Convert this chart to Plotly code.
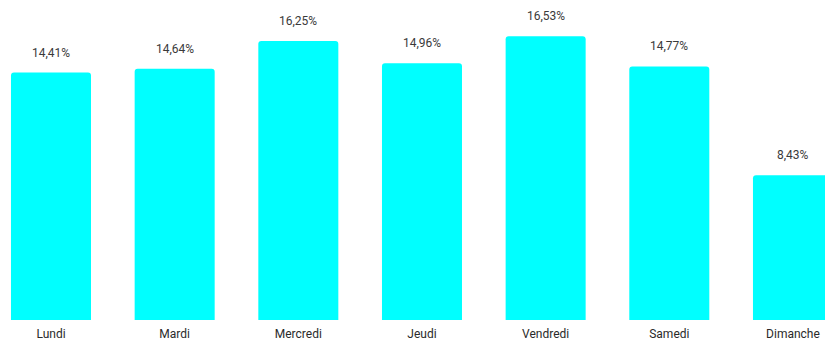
import plotly.graph_objects as go

jours = ["Lundi", "Mardi", "Mercredi", "Jeudi", "Vendredi", "Samedi", "Dimanche"]
parts = [14.41, 14.64, 16.25, 14.96, 16.53, 14.77, 8.43]

labels = [f"{v:.2f}".replace(".", ",") + "%" for v in parts]

fig = go.Figure(
    go.Bar(
        x=list(range(len(jours))),
        y=parts,
        marker=dict(color="#00FFFF", line=dict(width=0)),
        hoverinfo="skip",
    )
)

for i, (v, t) in enumerate(zip(parts, labels)):
    fig.add_annotation(
        x=i, y=v, text=t, showarrow=False, yanchor="middle", yshift=20,
        font=dict(family="Roboto, sans-serif", size=12, color="#3a3a3a"),
    )

fig.update_layout(
    width=825,
    height=342,
    margin=dict(l=0, r=0, t=0, b=22),
    paper_bgcolor="white",
    plot_bgcolor="white",
    bargap=0.353,
    barcornerradius=3,
    showlegend=False,
    font=dict(family="Roboto, sans-serif", size=12, color="#333333"),
)
fig.update_xaxes(
    range=[-0.4124, 6.259],
    tickvals=list(range(len(jours))),
    ticktext=jours,
    showgrid=False, zeroline=False, showline=False, ticks="",
    ticklabelstandoff=5,
    tickfont=dict(size=12, color="#2a2a2a"),
)
fig.update_yaxes(range=[0, 18.64], visible=False, showgrid=False, zeroline=False)

fig.write_html("out.html")
